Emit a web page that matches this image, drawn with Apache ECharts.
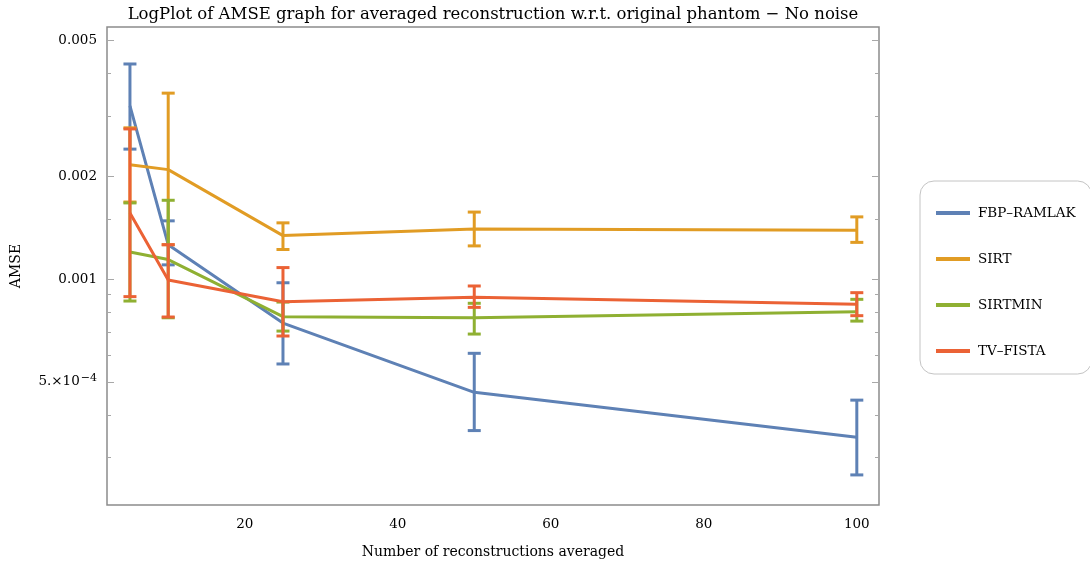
<!DOCTYPE html>
<html><head><meta charset="utf-8">
<script src="https://cdn.jsdelivr.net/npm/echarts@6/dist/echarts.min.js"></script>
<style>html,body{margin:0;padding:0;background:#fff}#c{width:1090px;height:566px}</style>
</head><body><div id="c"></div>
<script>
const xValues = [5, 10, 25, 50, 100];
const seriesNames = ['FBP–RAMLAK', 'SIRT', 'SIRTMIN', 'TV–FISTA'];
const fbpMean  = [0.00321, 0.00126, 0.000743, 0.000466, 0.000344];
const fbpLow   = [0.00240, 0.00110, 0.000564, 0.000360, 0.000267];
const fbpHigh  = [0.00426, 0.00148, 0.000975, 0.000606, 0.000442];
const sirtMean = [0.00216, 0.00209, 0.00134, 0.00140, 0.00139];
const sirtLow  = [0.00168, 0.00126, 0.00122, 0.00125, 0.00128];
const sirtHigh = [0.00277, 0.00350, 0.00146, 0.00157, 0.00152];
const sirtminMean = [0.00120, 0.00114, 0.000776, 0.000770, 0.000802];
const sirtminLow  = [0.000862, 0.000770, 0.000704, 0.000690, 0.000753];
const sirtminHigh = [0.00167, 0.00170, 0.000856, 0.000849, 0.000872];
const tvMean = [0.00156, 0.000993, 0.000858, 0.000884, 0.000843];
const tvLow  = [0.000888, 0.000774, 0.000681, 0.000826, 0.000781];
const tvHigh = [0.00275, 0.00126, 0.00108, 0.000954, 0.000912];
const yLabelTicks = [0.005, 0.002, 0.001, 0.0005];
const yMinorTicks = [0.004, 0.003, 0.0015, 0.0009, 0.0008, 0.0007, 0.0006, 0.0004, 0.0003];
const xLabelTicks = [20, 40, 60, 80, 100];

const colors = ['#5E81B5', '#E19C24', '#8FB032', '#EB6235'];
const FONT = 'DejaVu Serif';
const Y_MIN = 0.000218, Y_MAX = 0.005466;
const means = [fbpMean, sirtMean, sirtminMean, tvMean];
const lows = [fbpLow, sirtLow, sirtminLow, tvLow];
const highs = [fbpHigh, sirtHigh, sirtminHigh, tvHigh];

function fmtY(v) {
  if (v < 0.00099) {
    const e = Math.floor(Math.log10(v) + 1e-9);
    const m = Math.round(v / Math.pow(10, e));
    return m + '.×10{sup|−' + (-e) + '}';
  }
  return String(+v.toPrecision(3));
}

function yAxisDef(position, majorVals, len, showLabel) {
  return {
    type: 'log', logBase: 10, min: Y_MIN, max: Y_MAX, position: position,
    gridIndex: 0,
    name: showLabel ? 'AMSE' : '',
    nameLocation: 'middle', nameGap: 84, nameRotate: 90,
    nameTextStyle: {fontFamily: FONT, fontSize: 14, color: '#000'},
    axisLine: {show: false},
    splitLine: {show: false},
    axisTick: {show: true, inside: true, length: len, customValues: majorVals,
               lineStyle: {color: '#a8a8a8', width: 1}},
    axisLabel: {show: showLabel, customValues: majorVals, margin: 10,
                fontFamily: FONT, fontSize: 13.5, color: '#000', formatter: fmtY,
                rich: {sup: {fontFamily: FONT, fontSize: 11, color: '#000', verticalAlign: 'bottom', padding: [0, 0, 8, 1]}}}
  };
}

function errRender(color) {
  return function (params, api) {
    const x = api.value(0), lo = api.value(1), hi = api.value(2);
    const a = api.coord([x, hi]), b = api.coord([x, lo]);
    const w = 6.5;
    const st = {stroke: color, lineWidth: 3};
    return {type: 'group', children: [
      {type: 'line', shape: {x1: a[0], y1: a[1], x2: b[0], y2: b[1]}, style: st},
      {type: 'line', shape: {x1: a[0] - w, y1: a[1], x2: a[0] + w, y2: a[1]}, style: st},
      {type: 'line', shape: {x1: b[0] - w, y1: b[1], x2: b[0] + w, y2: b[1]}, style: st}
    ]};
  };
}

const series = [];
seriesNames.forEach(function (name, k) {
  series.push({
    type: 'line', name: name, xAxisIndex: 0, yAxisIndex: 0,
    data: xValues.map(function (x, i) { return [x, means[k][i]]; }),
    symbol: 'none', lineStyle: {color: colors[k], width: 3},
    itemStyle: {color: colors[k]}, z: 2 + k * 2
  });
  series.push({
    type: 'custom', name: name, xAxisIndex: 0, yAxisIndex: 0,
    data: xValues.map(function (x, i) { return [x, lows[k][i], highs[k][i]]; }),
    encode: {x: 0, y: [1, 2]},
    renderItem: errRender(colors[k]),
    itemStyle: {color: colors[k]}, z: 3 + k * 2
  });
});

const chart = echarts.init(document.getElementById('c'), null, {renderer: 'canvas'});
chart.setOption({
  animation: false,
  backgroundColor: '#fff',
  title: {
    text: 'LogPlot of AMSE graph for averaged reconstruction w.r.t. original phantom − No noise',
    left: 493, top: 6, textAlign: 'center', padding: 0,
    textStyle: {fontFamily: FONT, fontSize: 16.5, fontWeight: 'normal', color: '#000'}
  },
  legend: {
    orient: 'vertical', left: 920, top: 181,
    data: seriesNames, icon: 'rect', itemWidth: 34, itemHeight: 4, itemGap: 26,
    padding: [22, 16, 13, 16],
    borderColor: '#c4c4c4', borderWidth: 1, borderRadius: 14,
    textStyle: {fontFamily: FONT, fontSize: 13.5, color: '#000', lineHeight: 20, padding: [0, 0, 0, 3]}
  },
  grid: {left: 107, top: 27, width: 772, height: 478, show: true,
         borderColor: '#8c8c8c', borderWidth: 1.5, backgroundColor: 'transparent'},
  xAxis: [{
    type: 'value', min: 2, max: 102.9,
    name: 'Number of reconstructions averaged', nameLocation: 'middle', nameGap: 40,
    nameTextStyle: {fontFamily: FONT, fontSize: 14, color: '#000'},
    axisLine: {show: false}, axisTick: {show: false}, splitLine: {show: false},
    axisLabel: {customValues: xLabelTicks, margin: 12, fontFamily: FONT, fontSize: 13.5, color: '#000'}
  }],
  yAxis: [
    yAxisDef('left', yLabelTicks, 7, true),
    yAxisDef('left', yMinorTicks, 4, false),
    yAxisDef('right', yLabelTicks, 7, false),
    yAxisDef('right', yMinorTicks, 4, false)
  ],
  series: series
});
</script>
</body></html>
